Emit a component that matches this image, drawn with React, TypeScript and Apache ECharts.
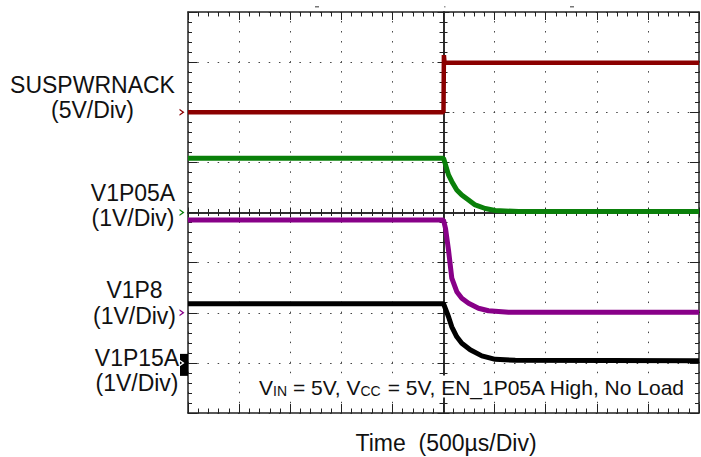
import React, { useEffect, useRef } from "react";
import * as echarts from "echarts";

// ---- Data (time in µs, values in volts) ----
const suspTime = [-2500, 0, 4, 10, 2500];
const suspVolts = [0, 0, 5.7, 4.95, 4.95];

const v1p05aTime = [-2500, 0, 10, 49, 81, 130, 179, 245, 310, 408, 506, 734, 2500];
const v1p05aVolts = [1.08, 1.08, 1.02, 0.75, 0.62, 0.45, 0.35, 0.25, 0.15, 0.08, 0.04, 0.02, 0.02];

const v1p8Time = [-2500, 0, 20, 49, 81, 130, 179, 245, 342, 440, 636, 2500];
const v1p8Volts = [1.85, 1.85, 1.68, 1.25, 0.69, 0.42, 0.29, 0.19, 0.09, 0.04, 0.01, 0.01];

const v1p15aTime = [-2500, 0, 49, 81, 130, 179, 261, 375, 506, 702, 2500];
const v1p15aVolts = [1.18, 1.18, 0.92, 0.72, 0.52, 0.39, 0.26, 0.14, 0.07, 0.05, 0.04];

const channelNames = ["SUSPWRNACK", "V1P05A", "V1P8", "V1P15A"];
const channelScales = ["(5V/Div)", "(1V/Div)", "(1V/Div)", "(1V/Div)"];
const voltsPerDiv = [5, 1, 1, 1];
const groundDiv = [2, 0, -2, -3]; // ground marker position, divisions from screen centre
const channelColors = ["#8b0000", "#0a800a", "#880088", "#000000"];

const xTitle = "Time\u00a0 (500µs/Div)";
const FONT = '"Liberation Sans", Arial, sans-serif';

const traces = [
  { t: suspTime, v: suspVolts },
  { t: v1p05aTime, v: v1p05aVolts },
  { t: v1p8Time, v: v1p8Volts },
  { t: v1p15aTime, v: v1p15aVolts },
];

const AX = "#222";
const GRID = { left: 188, top: 12, width: 511, height: 401 };

function xAx(gridIndex: number, extra: any) {
  return {
    gridIndex,
    type: "value",
    min: -2500,
    max: 2500,
    interval: 500,
    axisLabel: { show: false },
    splitLine: { show: false },
    axisLine: { lineStyle: { color: AX, width: 1.5 } },
    ...extra,
  };
}
function yAx(gridIndex: number, extra: any) {
  return {
    gridIndex,
    type: "value",
    min: -4,
    max: 4,
    interval: 1,
    axisLabel: { show: false },
    splitLine: { show: false },
    axisLine: { lineStyle: { color: AX, width: 1.5 } },
    ...extra,
  };
}
const tick = (inside: boolean, len: number) => ({
  show: true,
  inside,
  length: len,
  lineStyle: { color: AX, width: 1 },
});
const minor = (len: number) => ({
  show: true,
  splitNumber: 5,
  length: len,
  lineStyle: { color: AX, width: 1 },
});

const chevron = "path://M0,0L5,3.5L0,7L0,5.4L2.8,3.5L0,1.6Z";

function buildOption(): any {
  const series: any[] = traces.map((tr, i) => ({
    type: "line",
    name: channelNames[i],
    xAxisIndex: 0,
    yAxisIndex: 0,
    showSymbol: false,
    symbol: "none",
    z: 5,
    lineStyle: { color: channelColors[i], width: i === 0 ? 4.5 : 5 },
    data: tr.t.map((t, k) => [t, groundDiv[i] + tr.v[k] / voltsPerDiv[i]]),
  }));
  // black box behind V1P15A ground marker
  series.push({
    type: "scatter",
    xAxisIndex: 0,
    yAxisIndex: 0,
    clip: false,
    silent: true,
    z: 6,
    symbol: "rect",
    symbolSize: [8, 22],
    symbolOffset: [-4, 2],
    itemStyle: { color: "#000", opacity: 1 },
    data: [[-2500, groundDiv[3]]],
  });
  // ground markers
  channelNames.forEach((_, i) => {
    series.push({
      type: "scatter",
      xAxisIndex: 0,
      yAxisIndex: 0,
      clip: false,
      silent: true,
      z: 7,
      symbol: chevron,
      symbolSize: [5, 7],
      symbolOffset: [-6, 0],
      itemStyle: { color: i === 3 ? "#fff" : channelColors[i], opacity: 1 },
      data: [[-2500, groundDiv[i]]],
    });
  });

  const labelPos = [
    { x: 92.5, y: 97, lh: 25 },
    { x: 133, y: 205.8, lh: 25 },
    { x: 134.5, y: 303.2, lh: 26.5 },
    { x: 137, y: 370.8, lh: 25 },
  ];
  const txt = (text: string, x: number, y: number, size: number, lh?: number) => ({
    type: "text",
    x,
    y,
    z: 50,
    style: {
      text,
      fill: "#111",
      fontSize: size,
      fontFamily: FONT,
      lineHeight: lh,
      align: "center",
      verticalAlign: "middle",
    },
  });
  const graphic: any[] = [];
  channelNames.forEach((n, i) => {
    graphic.push(txt(n + "\n" + channelScales[i], labelPos[i].x, labelPos[i].y, 23, labelPos[i].lh));
  });
  graphic.push(txt(xTitle, 446, 442.5, 23));
  graphic.push({
    type: "text",
    x: 686,
    y: 386.5,
    z: 60,
    style: {
      text: "{m|V}{s|IN}{m| = 5V, V}{s|CC}{m| = 5V, EN_1P05A High, No Load}",
      align: "right",
      verticalAlign: "middle",
      backgroundColor: "#fff",
      padding: [0, 2],
      rich: {
        m: { fontSize: 21, fontFamily: FONT, fill: "#111", verticalAlign: "bottom", lineHeight: 22 },
        s: { fontSize: 14, fontFamily: FONT, fill: "#111", verticalAlign: "bottom", lineHeight: 22 },
      },
    },
  });
  // small cursor marks at top
  [315, 570].forEach((x) =>
    graphic.push({ type: "rect", shape: { x, y: 6, width: 4, height: 1.5 }, style: { fill: "#777" } })
  );
  graphic.push({ type: "rect", shape: { x: 444, y: 6, width: 1.5, height: 1.5 }, style: { fill: "#999" } });

  return {
    animation: false,
    backgroundColor: "#fff",
    grid: [GRID, GRID, GRID, GRID].map((g) => ({ ...g, containLabel: false })),
    xAxis: [
      xAx(0, {
        position: "bottom",
        axisLine: { onZero: false, lineStyle: { color: AX, width: 1.5 } },
        axisTick: tick(true, 9),
        minorTick: minor(4.5),
        splitLine: {
          show: true,
          lineStyle: { color: "#444", width: 1, type: [1.5, 8.52], dashOffset: 0.75 },
        },
      }),
      xAx(1, {
        position: "top",
        axisLine: { onZero: false, lineStyle: { color: AX, width: 1.5 } },
        axisTick: tick(true, 8),
        minorTick: minor(4.5),
      }),
      xAx(2, {
        axisLine: { onZero: true, lineStyle: { color: AX, width: 1.5 } },
        axisTick: tick(true, 5),
        minorTick: minor(3.5),
      }),
      xAx(3, {
        axisLine: { onZero: true, lineStyle: { color: AX, width: 1.5 } },
        axisTick: tick(false, 5),
        minorTick: minor(3.5),
      }),
    ],
    yAxis: [
      yAx(0, {
        position: "left",
        axisLine: { onZero: false, lineStyle: { color: AX, width: 1.5 } },
        axisTick: tick(true, 9),
        minorTick: minor(4),
        splitLine: {
          show: true,
          lineStyle: { color: "#444", width: 1, type: [1.5, 8.72], dashOffset: 0.75 },
        },
      }),
      yAx(1, {
        position: "right",
        axisLine: { onZero: false, lineStyle: { color: AX, width: 1.5 } },
        axisTick: tick(true, 9),
        minorTick: minor(4),
      }),
      yAx(2, {
        axisLine: { onZero: true, lineStyle: { color: AX, width: 1.5 } },
        axisTick: tick(true, 6),
        minorTick: minor(4),
      }),
      yAx(3, {
        axisLine: { onZero: true, lineStyle: { color: AX, width: 1.5 } },
        axisTick: tick(false, 6),
        minorTick: minor(4),
      }),
    ],
    series,
    graphic,
  };
}

export default function App() {
  const ref = useRef<HTMLDivElement>(null);
  useEffect(() => {
    const chart = echarts.init(ref.current!, undefined, { renderer: "svg" });
    chart.setOption(buildOption());
    return () => chart.dispose();
  }, []);
  return (
    <div
      ref={ref}
      style={{ position: "absolute", left: 0, top: 0, width: 701, height: 457 }}
    />
  );
}
